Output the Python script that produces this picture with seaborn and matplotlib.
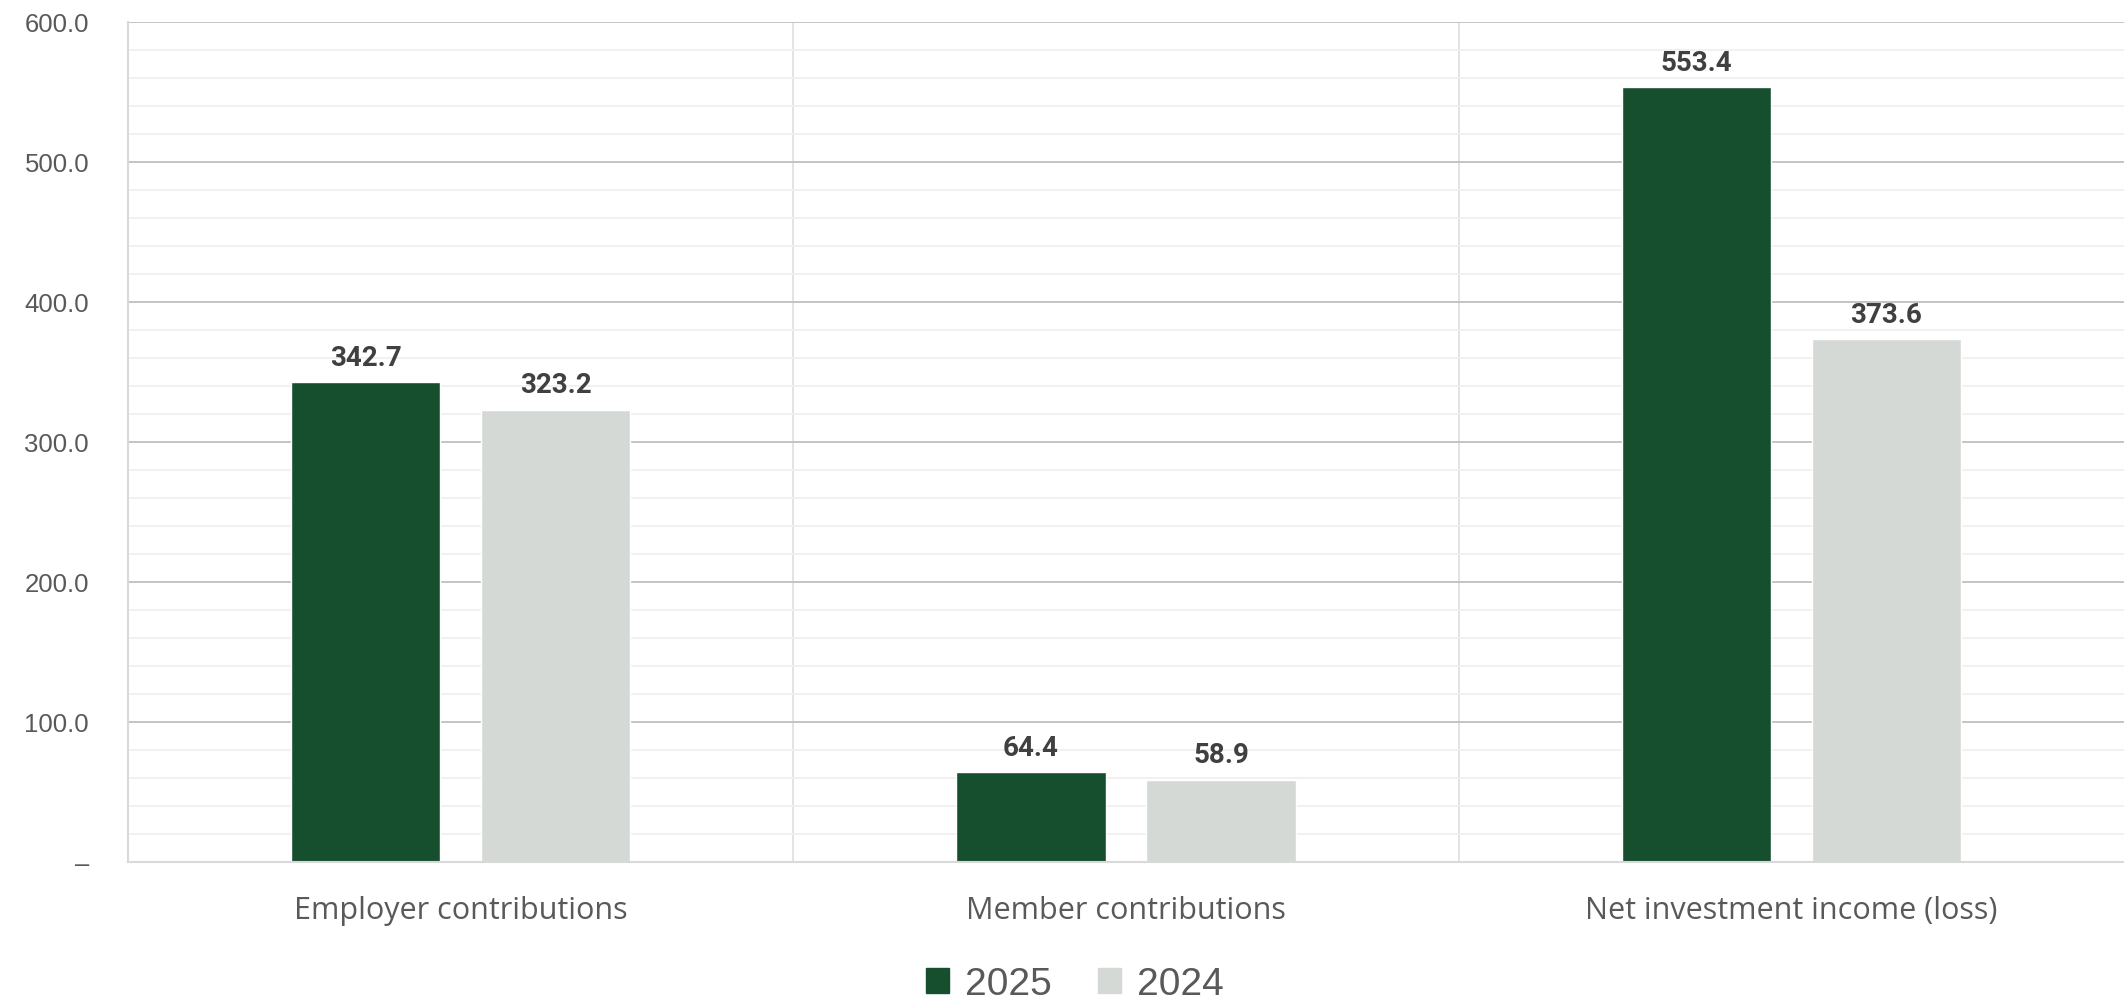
import matplotlib
matplotlib.use("Agg")
import matplotlib.pyplot as plt
import pandas as pd
import seaborn as sns
from matplotlib.ticker import FuncFormatter, MultipleLocator, FixedLocator

categories = ["Employer contributions", "Member contributions", "Net investment income (loss)"]
years = ["2025", "2024"]
values_2025 = [342.7, 64.4, 553.4]
values_2024 = [323.2, 58.9, 373.6]

GREEN = "#154F2E"
GREY = "#D5D9D5"

df = pd.DataFrame({
    "category": categories * 2,
    "year": [years[0]] * 3 + [years[1]] * 3,
    "value": values_2025 + values_2024,
})

sns.set_style("white")
plt.rcParams["font.family"] = ["Liberation Sans", "DejaVu Sans"]

fig = plt.figure(figsize=(21.24, 10.03), dpi=100)
ax = fig.add_axes([128 / 2124, 1 - 863 / 1003, 1 - 128 / 2124, (863 - 23) / 1003])

sns.barplot(
    data=df,
    x="category",
    y="value",
    hue="year",
    hue_order=years,
    palette=[GREEN, GREY],
    width=0.571,
    gap=0.215,
    ax=ax,
    legend=False,
    saturation=1,
)

for cont in ax.containers:
    ax.bar_label(cont, fmt="%.1f", padding=8, fontsize=20, fontweight="bold",
                 color="#404040", family=["Roboto", "DejaVu Sans"])

ax.set_xlim(-0.5, 2.5)
ax.set_ylim(0, 600)
ax.yaxis.set_major_locator(MultipleLocator(100))
ax.yaxis.set_minor_locator(MultipleLocator(20))
ax.yaxis.set_major_formatter(FuncFormatter(lambda v, p: "–" if v == 0 else f"{v:.1f}"))
ax.xaxis.set_minor_locator(FixedLocator([0.5, 1.5]))

ax.grid(axis="y", which="major", color="#bfbfbf", linewidth=1.3)
ax.grid(axis="y", which="minor", color="#f0f0f0", linewidth=1.3)
ax.grid(axis="x", which="minor", color="#e0e0e0", linewidth=1.3)
ax.grid(axis="x", which="major", visible=False)
ax.set_axisbelow(True)

for s in ["top", "right"]:
    ax.spines[s].set_visible(False)
for s in ["left", "bottom"]:
    ax.spines[s].set_color("#d9d9d9")
    ax.spines[s].set_linewidth(1.5)

ax.tick_params(axis="y", which="both", length=0, pad=28, labelsize=18.5, labelcolor="#595959")
ax.tick_params(axis="x", which="both", length=0, pad=24, labelsize=22, labelcolor="#595959")
for lbl in ax.get_xticklabels():
    lbl.set_family(["Open Sans", "DejaVu Sans"])
ax.set_xlabel("")
ax.set_ylabel("")

handles = [plt.Rectangle((0, 0), 1, 1, color=GREEN), plt.Rectangle((0, 0), 1, 1, color=GREY)]
fig.legend(handles, years, loc="center", bbox_to_anchor=(0.506, 0.018), ncol=2, frameon=False,
           fontsize=28, labelcolor="#595959", handlelength=0.6, handleheight=0.6,
           handletextpad=0.4, columnspacing=1.2)

fig.savefig("out.png", dpi=100)
plt.close(fig)
